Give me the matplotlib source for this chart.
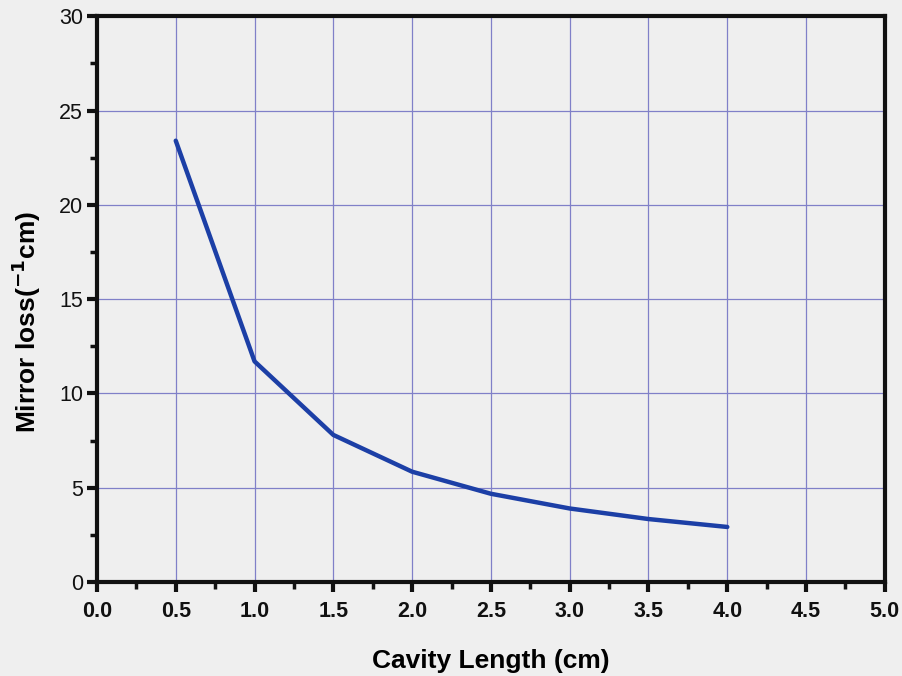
import matplotlib
matplotlib.use("Agg")
import matplotlib.pyplot as plt
from matplotlib.ticker import MultipleLocator

# cavity length (cm) vs mirror loss (cm^-1)
cavity_length = [0.5, 1.0, 1.5, 2.0, 2.5, 3.0, 3.5, 4.0]
mirror_loss = [23.4, 11.7, 7.8, 5.85, 4.68, 3.9, 3.34, 2.92]

x_ticks = [0.0, 0.5, 1.0, 1.5, 2.0, 2.5, 3.0, 3.5, 4.0, 4.5, 5.0]
y_ticks = [0, 5, 10, 15, 20, 25, 30]

BG = "#efefef"
LINE_COLOR = "#1c3fa6"
GRID_COLOR = "#8080c8"

plt.rcParams["font.family"] = ["Liberation Sans", "DejaVu Sans"]

fig = plt.figure(figsize=(9.02, 6.76), dpi=100, facecolor=BG)
ax = fig.add_axes([0.1075, 0.139, 0.8735, 0.837], facecolor=BG)

ax.plot(cavity_length, mirror_loss, color=LINE_COLOR, lw=3.2,
        solid_capstyle="round", solid_joinstyle="round", zorder=5)

ax.set_xlim(0, 5)
ax.set_ylim(0, 30)
ax.set_xticks(x_ticks)
ax.set_yticks(y_ticks)
ax.set_xticklabels([f"{v:.1f}" for v in x_ticks], fontweight="bold")
ax.set_yticklabels([str(v) for v in y_ticks])
ax.xaxis.set_minor_locator(MultipleLocator(0.25))
ax.yaxis.set_minor_locator(MultipleLocator(2.5))

ax.grid(True, which="major", color=GRID_COLOR, lw=0.9)
ax.set_axisbelow(True)

for side in ["left", "bottom", "top", "right"]:
    ax.spines[side].set_linewidth(3)
    ax.spines[side].set_color("#111111")

ax.tick_params(which="major", direction="out", length=7, width=3,
               labelsize=15.5, colors="#111111", pad=3)
ax.tick_params(axis="x", which="major", pad=7)
ax.tick_params(which="minor", direction="out", length=5, width=2.5,
               colors="#111111")
ax.tick_params(top=False, right=False, which="both")

ax.set_xlabel("Cavity Length (cm)", fontsize=19, fontweight="bold", labelpad=19)
ax.set_ylabel(r"Mirror loss($^{\mathbf{-1}}$cm)", fontsize=19,
              fontweight="bold")
ax.yaxis.set_label_coords(-0.069, 0.46)

fig.savefig("out.png", dpi=100, facecolor=BG)
